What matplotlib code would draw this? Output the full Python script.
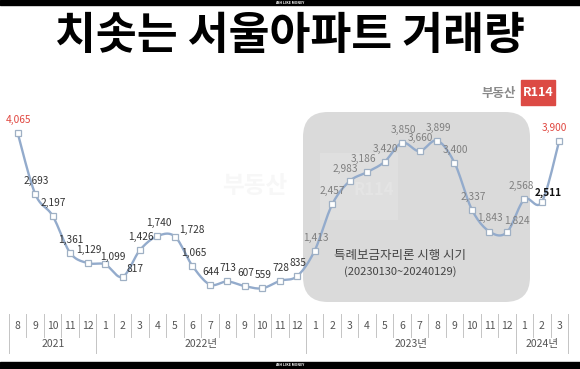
import numpy as np
import matplotlib
matplotlib.use('Agg')
import matplotlib.pyplot as plt
from matplotlib.patches import FancyBboxPatch, Rectangle
from matplotlib.transforms import blended_transform_factory

plt.rcParams['font.family'] = ['Noto Sans CJK KR', 'DejaVu Sans']

# ============================================
# DATA  (서울 아파트 매매 거래량, 월별)
# ============================================
months = ['8', '9', '10', '11', '12',
          '1', '2', '3', '4', '5', '6', '7', '8', '9', '10', '11', '12',
          '1', '2', '3', '4', '5', '6', '7', '8', '9', '10', '11', '12',
          '1', '2', '3']
years = ['2021', '2022년', '2023년', '2024년']
year_counts = [5, 12, 12, 3]
volumes = [4065, 2693, 2197, 1361, 1129,
           1099, 817, 1426, 1740, 1728, 1065, 644, 713, 607, 559, 728, 835,
           1413, 2457, 2983, 3186, 3420, 3850, 3660, 3899, 3400, 2337, 1843, 1824,
           2568, 2511, 3900]

title = '치솟는 서울아파트 거래량'
note1 = '특례보금자리론 시행 시기'
note2 = '(20230130~20240129)'

# label offsets in pixels (default: straight above the point)
label_offset = {5: (8, 7), 6: (12, 8), 9: (17, 7), 18: (0, 13), 19: (-4, 12),
                20: (-4, 13), 27: (1, 14), 28: (10, 11), 29: (-3, 13),
                30: (6, 9), 31: (-5, 13)}

x = np.arange(len(volumes))
y = np.array(volumes, dtype=float)

# smooth line like excel (catmull-rom through the points)
def smooth(xs, ys, n=12):
    px = np.concatenate([[xs[0]], xs, [xs[-1]]])
    py = np.concatenate([[ys[0]], ys, [ys[-1]]])
    ox, oy = [], []
    t = np.linspace(0, 1, n, endpoint=False)
    for i in range(1, len(px) - 2):
        for p, o in ((px, ox), (py, oy)):
            p0, p1, p2, p3 = p[i - 1], p[i], p[i + 1], p[i + 2]
            o.extend(0.5 * (2 * p1 + (-p0 + p2) * t
                            + (2 * p0 - 5 * p1 + 4 * p2 - p3) * t ** 2
                            + (-p0 + 3 * p1 - 3 * p2 + p3) * t ** 3))
    ox.append(xs[-1]); oy.append(ys[-1])
    return np.array(ox), np.array(oy)

fig = plt.figure(figsize=(5.8, 3.69), dpi=100)

# overlay in pixel coords for decorations
bg = fig.add_axes([0, 0, 1, 1], zorder=0)
bg.set_xlim(0, 580)
bg.set_ylim(369, 0)
bg.axis('off')

# black bars top / bottom
bg.add_patch(Rectangle((0, 0), 580, 5, color='black'))
bg.add_patch(Rectangle((0, 362), 580, 7, color='black'))
bg.text(290, 2.6, 'ASH LIKE MONEY', color='white', fontsize=2.5,
        ha='center', va='center', weight='bold')
bg.text(290, 365.5, 'ASH LIKE MONEY', color='white', fontsize=2.5,
        ha='center', va='center', weight='bold')

bg.text(290, 36, title, fontsize=32, weight='black', ha='center', va='center',
        color='black')

# logo
bg.text(516, 93, '부동산', fontsize=9, weight='bold', color='#8a8a8a',
        ha='right', va='center')
bg.add_patch(Rectangle((521, 80), 34, 25, color='#dc4a44'))
bg.text(538, 93, 'R114', fontsize=9, weight='bold', color='white',
        ha='center', va='center')

# shaded period box
bg.add_patch(FancyBboxPatch((303 + 25, 112 + 25), 227 - 50, 190 - 50,
                            boxstyle='round,pad=25', color='#dadada', lw=0))
# faint watermark
bg.text(255, 186, '부동산', fontsize=17, weight='bold', color='#f7f7f7',
        ha='center', va='center')
bg.add_patch(Rectangle((320, 153), 78, 67, color='#dfdfdf', lw=0))
bg.text(374, 190, 'R114', fontsize=12, weight='bold', color='#e4e4e4',
        ha='center', va='center')
bg.text(400, 255, note1, fontsize=9, color='#444444', ha='center', va='center')
bg.text(400, 272, note2, fontsize=8, color='#444444', ha='center', va='center')

# data axes
ax = fig.add_axes([9 / 580, (369 - 313) / 369, 559 / 580, 212.2 / 369], zorder=1)
ax.patch.set_alpha(0)
ax.set_xlim(-0.5, len(volumes) - 0.5)
ax.set_ylim(0, 4800)
ax.axis('off')

sx, sy = smooth(x.astype(float), y)
ax.plot(sx, sy, color='#93abcc', lw=1.7, zorder=2, solid_capstyle='round')
ax.plot(x, y, ls='none', marker='s', ms=4.2, mfc='white', mec='#9fb0c4',
        mew=0.9, zorder=3)

for i, v in enumerate(volumes):
    if i in (0, len(volumes) - 1):
        col, wt = '#e0463f', 'normal'
    elif i == 30:
        col, wt = '#111111', 'bold'
    elif i >= 17:
        col, wt = '#7f7f7f', 'normal'
    else:
        col, wt = '#333333', 'normal'
    dx, dy = label_offset.get(i, (1, 13))
    ax.annotate(f'{v:,}', (x[i], v), xytext=(dx, dy), textcoords='offset pixels',
                ha='center', va='center', fontsize=7.3, color=col, weight=wt,
                zorder=4)

# month / year table under the axis
tr = blended_transform_factory(ax.transData, bg.transData)
for i, m in enumerate(months):
    bg.text(i, 326, m, transform=tr, ha='center', va='center', fontsize=7.5,
            color='#555555')
for b in np.arange(-0.5, len(months), 1.0):
    bg.plot([b, b], [314, 337], transform=tr, color='#c4c4c4', lw=0.7)
start = 0
for yr, cnt in zip(years, year_counts):
    bg.text(start + cnt / 2 - 0.5, 344, yr, transform=tr, ha='center',
            va='center', fontsize=7.5, color='#555555')
    bg.plot([start - 0.5, start - 0.5], [337, 353], transform=tr,
            color='#c4c4c4', lw=0.7)
    start += cnt
bg.plot([start - 0.5, start - 0.5], [337, 353], transform=tr,
        color='#c4c4c4', lw=0.7)

plt.savefig('out.png', dpi=100)
plt.close()
